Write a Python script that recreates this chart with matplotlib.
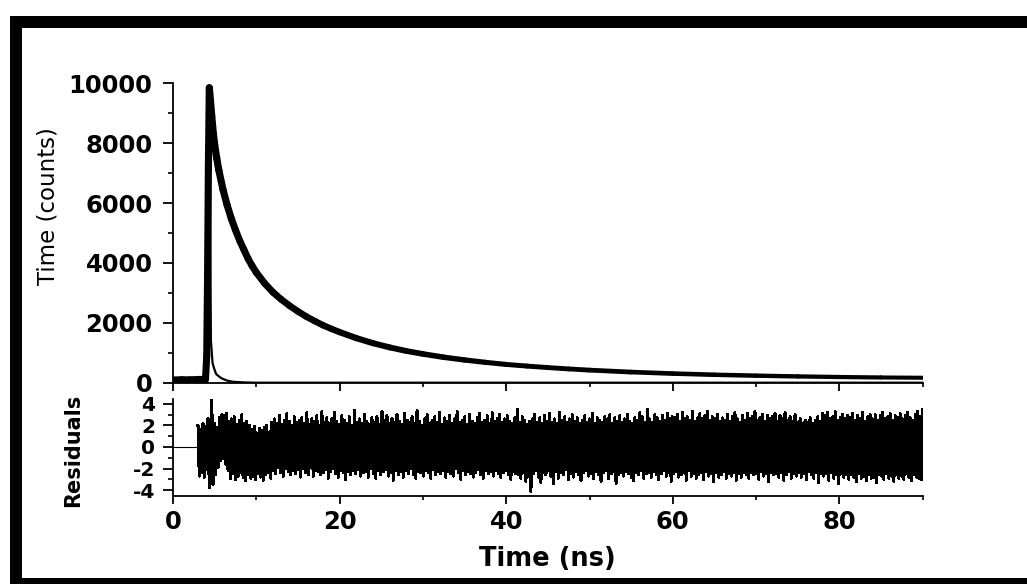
import numpy as np
import matplotlib
matplotlib.use("Agg")
import matplotlib.pyplot as plt
from matplotlib.ticker import MultipleLocator
from matplotlib.patches import Rectangle
from matplotlib.collections import LineCollection

# ---------------- data ----------------
decay_t = [0.0, 1.0, 2.0, 3.0, 3.9, 4.05, 4.15, 4.25, 4.36, 4.5, 4.65, 4.85,
           5.0, 5.25, 5.5, 6.0, 6.5, 7.0, 7.5, 8.0, 8.5, 9.0, 9.5, 10.0,
           11.0, 12.0, 13.0, 14.0, 15.0, 16.0, 17.0, 18.0, 19.0, 20.0,
           22.0, 24.0, 26.0, 28.0, 30.0, 32.5, 35.0, 37.5, 40.0, 42.5, 45.0,
           47.5, 50.0, 55.0, 60.0, 65.0, 70.0, 75.0, 80.0, 85.0, 90.0]
decay_counts = [110, 115, 105, 112, 110, 900, 3500, 7200, 9850, 9400, 8900, 8300,
                7950, 7500, 7100, 6450, 5930, 5480, 5100, 4750, 4450, 4150, 3900, 3680,
                3320, 3020, 2780, 2570, 2380, 2210, 2060, 1920, 1800, 1690,
                1490, 1320, 1180, 1060, 960, 850, 760, 680, 610, 555, 505,
                460, 420, 355, 305, 265, 235, 210, 190, 175, 165]

irf_t = [0.0, 3.0, 3.9, 4.05, 4.2, 4.35, 4.45, 4.55, 4.75, 5.0, 5.2, 5.8, 6.5,
         7.2, 8.5, 10.0, 90.0]
irf_counts = [10, 10, 15, 800, 5000, 9700, 6000, 1400, 650, 420, 280, 150, 70,
              30, 10, 0, 0]

res_pre_t = [0.0, 3.0]
res_pre = [0.0, 0.0]
res_start, res_end = 3.0, 90.0
residuals = [
    2.0, -2.7, 1.6, -2.4, 2.2, -2.8, 1.9, -2.1, 2.6, -3.8, 1.4, 4.5, -3.5, 2.2, -2.6, 1.8, -1.9, 2.7, -1.3, 3.0,
    -1.1, 2.9, -1.6, 3.1, -2.2, 2.4, -2.9, 2.6, -2.5, 2.8, -3.0, 2.1, -2.7, 2.5, -2.4, 3.0, -2.8, 2.2, -3.1, 2.4,
    -2.6, 2.0, -2.9, 1.6, -2.7, 1.9, -3.0, 1.3, -2.5, 1.7, -2.8, 1.5, -3.1, 1.8, -2.6, 2.0, -2.4, 1.4, -2.9, 2.3,
    -2.2, 2.6, -2.5, 2.2, -1.9, 2.9, -2.4, 2.1, -2.7, 2.5, -2.0, 3.1, -2.3, 2.4, -2.6, 2.0, -2.2, 2.8, -2.5, 2.3,
    -2.1, 2.5, -2.8, 2.7, -2.0, 2.2, -2.4, 3.2, -2.6, 2.1, -1.9, 2.6, -2.7, 2.4, -2.2, 2.9, -2.3, 2.0, -2.6, 3.3,
    -2.4, 2.3, -2.1, 2.7, -2.9, 2.2, -2.3, 2.6, -2.0, 3.2, -2.5, 2.4, -2.8, 2.1, -2.2, 2.9, -2.4, 2.5, -3.0, 2.2,
    -2.3, 2.8, -2.6, 2.0, -2.2, 3.4, -2.5, 2.3, -2.1, 2.6, -2.7, 2.2, -2.4, 3.0, -2.3, 2.4, -2.8, 2.1, -2.0, 2.7,
    -2.5, 2.3, -2.9, 2.8, -2.2, 2.1, -2.6, 3.3, -2.3, 2.5, -2.1, 2.9, -2.7, 2.2, -2.4, 2.6, -3.1, 2.3, -2.2, 3.0,
    -2.6, 2.4, -2.3, 2.1, -2.8, 3.1, -2.2, 2.5, -2.5, 2.3, -2.0, 2.8, -2.6, 2.2, -2.9, 3.4, -2.3, 2.4, -2.4, 2.0,
    -2.7, 2.6, -2.2, 3.0, -2.4, 2.2, -2.9, 2.5, -2.1, 2.8, -2.6, 2.3, -2.3, 3.2, -2.5, 2.1, -2.2, 2.7, -2.8, 2.4,
    -2.3, 2.9, -2.5, 2.2, -2.7, 2.6, -2.0, 3.3, -2.4, 2.3, -3.0, 2.5, -2.2, 2.8, -2.6, 2.1, -2.3, 3.0, -2.5, 2.4,
    -2.8, 2.2, -2.4, 2.7, -2.1, 3.1, -2.6, 2.3, -2.9, 2.5, -2.2, 2.9, -2.5, 2.2, -2.3, 3.2, -2.7, 2.4, -2.2, 2.6,
    -2.5, 3.0, -2.8, 2.3, -2.4, 2.6, -2.2, 2.9, -2.6, 2.4, -3.0, 2.2, -2.3, 2.7, -2.5, 3.5, -2.6, 2.3, -2.9, 2.8,
    -2.4, 2.5, -3.2, 2.1, -2.7, 2.4, -4.1, 2.6, -2.5, 3.0, -2.2, 2.3, -2.8, 2.7, -3.3, 2.2, -2.4, 2.9, -2.6, 2.4,
    -2.2, 3.1, -2.7, 2.3, -3.4, 2.6, -2.3, 2.2, -2.9, 3.2, -2.4, 2.5, -2.6, 2.8, -2.1, 2.3, -3.0, 2.6, -2.5, 3.0,
    -2.8, 2.4, -2.3, 2.7, -2.6, 2.2, -3.1, 2.5, -2.4, 2.9, -2.2, 2.3, -2.7, 2.6, -2.5, 3.1, -2.9, 2.2, -2.3, 2.7,
    -2.6, 2.5, -3.2, 2.3, -2.4, 2.8, -2.2, 2.6, -2.9, 3.0, -2.5, 2.2, -2.3, 2.7, -3.4, 2.4, -2.6, 2.9, -2.4, 2.3,
    -2.7, 2.6, -2.3, 3.0, -2.5, 2.4, -2.8, 2.2, -3.1, 2.7, -2.4, 2.5, -2.6, 3.2, -2.2, 2.8, -2.9, 2.3, -2.5, 3.5,
    -2.4, 2.6, -2.8, 2.3, -2.3, 3.0, -2.6, 2.7, -3.0, 2.4, -2.5, 2.9, -2.2, 2.5, -2.7, 3.1, -2.4, 2.6, -3.2, 2.8,
    -2.5, 2.7, -2.3, 3.0, -2.8, 2.4, -2.6, 3.2, -2.4, 2.6, -3.1, 2.8, -2.2, 2.5, -2.7, 3.3, -2.5, 2.4, -2.9, 2.7,
    -2.6, 3.1, -2.4, 2.6, -3.0, 2.9, -2.3, 3.3, -2.7, 2.5, -2.5, 2.8, -3.2, 2.6, -2.4, 3.0, -2.8, 2.4, -2.6, 2.7,
    -2.3, 2.5, -2.9, 3.0, -2.5, 2.4, -2.7, 2.8, -2.4, 3.2, -3.1, 2.6, -2.5, 2.3, -2.8, 2.9, -2.4, 2.5, -2.6, 3.1,
    -2.9, 2.6, -2.4, 2.8, -2.6, 3.3, -2.5, 2.5, -3.0, 2.7, -2.3, 3.0, -2.7, 2.4, -2.5, 2.9, -3.2, 2.6, -2.4, 2.8,
    -2.6, 3.1, -2.5, 2.4, -2.8, 2.9, -2.4, 2.6, -3.1, 3.2, -2.6, 2.5, -2.3, 2.8, -2.9, 2.4, -2.5, 3.0, -2.7, 2.3,
    -2.4, 2.6, -2.8, 2.2, -2.5, 2.5, -3.0, 2.3, -2.3, 2.7, -2.6, 2.2, -2.9, 2.5, -2.4, 2.8, -3.3, 2.4, -2.5, 3.1,
    -2.7, 2.9, -2.5, 3.2, -3.1, 2.6, -2.4, 2.8, -2.9, 3.3, -2.6, 2.5, -3.4, 2.7, -2.5, 3.0, -2.8, 2.6, -2.6, 2.9,
    -3.0, 2.7, -2.6, 3.1, -2.8, 2.5, -3.2, 2.9, -2.5, 2.6, -2.9, 3.2, -2.7, 2.4, -3.1, 2.8, -2.6, 3.0, -2.9, 2.6,
    -2.8, 3.0, -3.3, 2.5, -2.6, 2.9, -2.7, 3.2, -3.0, 2.6, -2.5, 2.8, -2.9, 3.1, -2.7, 2.5, -3.2, 2.9, -2.6, 2.7,
    -2.9, 3.1, -2.7, 2.6, -3.0, 2.9, -2.5, 3.2, -2.8, 2.7, -3.1, 2.5, -2.6, 3.0, -2.8, 3.3, -2.9, 2.8, -3.0, 3.5,
]

x_major = [0, 20, 40, 60, 80]
y_major_top = [0, 2000, 4000, 6000, 8000, 10000]
y_major_res = [-4, -2, 0, 2, 4]

# ---------------- figure ----------------
plt.rcParams["font.family"] = ["DejaVu Sans"]
plt.rcParams["font.weight"] = "bold"
plt.rcParams["axes.unicode_minus"] = False

W, H = 1027, 584
fig = plt.figure(figsize=(W / 100, H / 100), dpi=100)
fig.patch.set_facecolor("white")

# outer black frame
for (x0, y0, w, h) in [(10, 556, 1017, 12), (10, 0, 12, 568), (10, 0, 1017, 6)]:
    fig.add_artist(Rectangle((x0 / W, y0 / H), w / W, h / H, transform=fig.transFigure,
                             facecolor="black", edgecolor="none"))

ax1 = fig.add_axes([173 / W, 201.3 / H, 749.7 / W, 299.4 / H])
ax2 = fig.add_axes([173 / W, 88 / H, 749.7 / W, 97 / H])

# decay: noisy band gets thinner with time -> segment widths shrink along the curve
dt = np.asarray(decay_t, dtype=float)
dc = np.asarray(decay_counts, dtype=float)
pts = np.column_stack([dt, dc]).reshape(-1, 1, 2)
segs = np.concatenate([pts[:-1], pts[1:]], axis=1)
mid_t = 0.5 * (dt[:-1] + dt[1:])
widths = np.interp(mid_t, [0, 4.5, 15, 40, 90], [4.2, 5.2, 4.8, 3.6, 2.9])
lc = LineCollection(segs, colors="black", linewidths=widths, capstyle="round",
                    joinstyle="round")
ax1.add_collection(lc)
ax1.plot(irf_t, irf_counts, color="black", lw=1.6)

res_t = np.linspace(res_start, res_end, len(residuals))
ax2.plot(res_pre_t, res_pre, color="black", lw=0.8)
ax2.plot(res_t, residuals, color="black", lw=1.45, solid_joinstyle="round",
         antialiased=False)

ax1.set_xlim(0, 90)
ax1.set_ylim(0, 10000)
ax2.set_xlim(0, 90)
ax2.set_ylim(-4.55, 4.45)

for ax in (ax1, ax2):
    for s in ("top", "right"):
        ax.spines[s].set_visible(False)
    for s in ("left", "bottom"):
        ax.spines[s].set_linewidth(1.3)
    ax.set_xticks(x_major)
    ax.xaxis.set_minor_locator(MultipleLocator(10))
    ax.tick_params(axis="x", which="major", direction="out", length=5.8, width=1.3,
                   labelsize=17.5, pad=4.5)
    ax.tick_params(axis="x", which="minor", direction="out", length=2.9, width=1.2)
    ax.tick_params(axis="y", which="major", direction="out", length=7.2, width=1.3)
    ax.tick_params(axis="y", which="minor", direction="out", length=3.6, width=1.2)

ax1.tick_params(axis="x", labelbottom=False)
ax1.set_yticks(y_major_top)
ax1.yaxis.set_minor_locator(MultipleLocator(1000))
ax1.tick_params(axis="y", labelsize=17.5, pad=7.5)

ax2.set_yticks(y_major_res)
ax2.yaxis.set_minor_locator(MultipleLocator(1))
ax2.tick_params(axis="y", labelsize=14.5, pad=5.5)

ax1.set_ylabel("Time (counts)", fontsize=16.5, fontweight="normal", va="center")
ax1.yaxis.set_label_coords((48 - 173) / 749.7, (382.7 - 206) / 299.4)
ax2.set_ylabel("Residuals", fontsize=15, fontweight="bold", va="center")
ax2.yaxis.set_label_coords((73.5 - 173) / 749.7, (496 - 450) / 97)
ax2.set_xlabel("Time (ns)", fontsize=18.5, fontweight="bold", va="center")
ax2.xaxis.set_label_coords(0.5, (496 - 559.5) / 97)

fig.savefig("out.png", dpi=100, facecolor="white")
